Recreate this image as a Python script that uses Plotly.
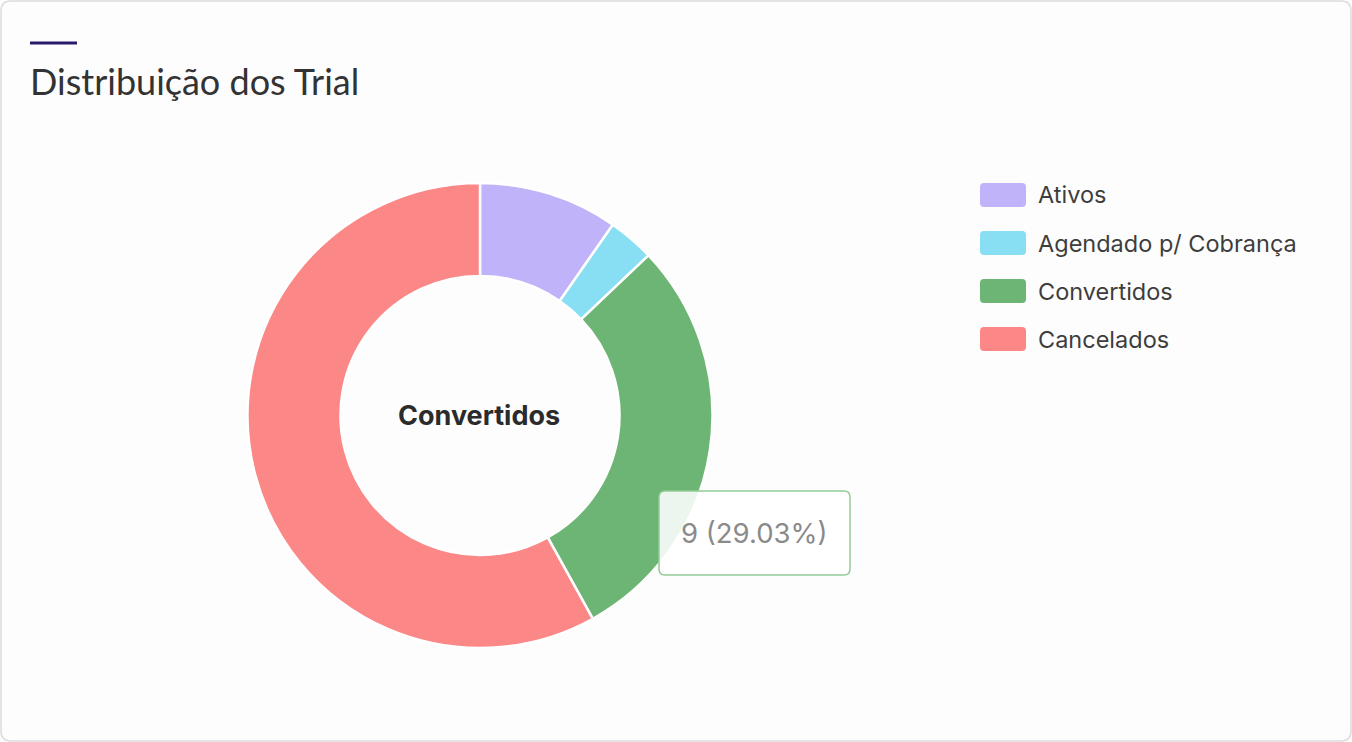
import plotly.graph_objects as go

W, H = 1352, 742

labels = ["Ativos", "Agendado p/ Cobrança", "Convertidos", "Cancelados"]
values = [3, 1, 9, 18]
colors = ["#c0b3fa", "#88def3", "#6db574", "#fb8787"]
title = "Distribuição dos Trial"
center_label = "Convertidos"
hover_index = 2


def px(x):
    return x / W


def py(y):
    return 1 - y / H


def rounded_rect(x0, y0, x1, y1, r):
    # path in paper coords, corners rounded in pixel units
    a, b, c, d = px(x0), py(y0), px(x1), py(y1)
    rx, ry = r / W, r / H
    return (f"M {a+rx},{b} L {c-rx},{b} Q {c},{b} {c},{b-ry} "
            f"L {c},{d+ry} Q {c},{d} {c-rx},{d} L {a+rx},{d} "
            f"Q {a},{d} {a},{d+ry} L {a},{b-ry} Q {a},{b} {a+rx},{b} Z")


fig = go.Figure(go.Pie(
    labels=labels,
    values=values,
    hole=0.6,
    sort=False,
    direction="clockwise",
    rotation=0,
    marker=dict(colors=colors, line=dict(color="white", width=2.5)),
    textinfo="none",
    hoverinfo="none",
    showlegend=False,
    domain=dict(x=[px(247), px(713)], y=[py(648), py(183)]),
))

shapes = [
    dict(type="path", xref="paper", yref="paper",
         path=rounded_rect(1, 1, W - 1, H - 1, 10),
         line=dict(color="#dcdcdc", width=1.5), layer="below"),
    dict(type="line", xref="paper", yref="paper",
         x0=px(30), x1=px(77), y0=py(43), y1=py(43),
         line=dict(color="#2c1a6c", width=3)),
]
annotations = [
    dict(text=title, x=px(28), y=py(81), xref="paper", yref="paper",
         xanchor="left", yanchor="middle", showarrow=False,
         font=dict(family="Lato", size=36, color="#333333")),
    dict(text=f"<b>{center_label}</b>", x=px(479), y=py(415),
         xref="paper", yref="paper", showarrow=False,
         xanchor="center", yanchor="middle",
         font=dict(family="Inter", size=27, color="#2b2b2b")),
]

# legend
for i, (lab, col) in enumerate(zip(labels, colors)):
    yc = 195 + i * 48
    shapes.append(dict(type="path", xref="paper", yref="paper",
                       path=rounded_rect(980, yc - 12, 1026, yc + 12, 4),
                       fillcolor=col, line=dict(width=0)))
    annotations.append(dict(text=lab, x=px(1036), y=py(yc), xref="paper",
                            yref="paper", xanchor="left", yanchor="middle",
                            showarrow=False,
                            font=dict(family="Inter", size=23.5, color="#3d3d3d")))

# tooltip
total = sum(values)
tip = f"{values[hover_index]} ({values[hover_index] / total * 100:.2f}%)"
shapes.append(dict(type="path", xref="paper", yref="paper",
                   path=rounded_rect(659, 491, 850, 575, 6),
                   fillcolor="rgba(255,255,255,0.88)",
                   line=dict(color="#93cb98", width=1.5), layer="above"))
annotations.append(dict(text=tip, x=px(754), y=py(533), xref="paper",
                        yref="paper", xanchor="center", yanchor="middle",
                        showarrow=False,
                        font=dict(family="Inter", size=27.5, color="#8a8a8a")))

fig.update_layout(
    width=W, height=H,
    margin=dict(l=0, r=0, t=0, b=0),
    paper_bgcolor="#fdfdfd",
    plot_bgcolor="#fdfdfd",
    shapes=shapes,
    annotations=annotations,
)

fig.write_html("out.html", config={"displayModeBar": False},
               post_script="document.body.style.margin='0';"
                           "document.body.style.overflow='hidden';")
